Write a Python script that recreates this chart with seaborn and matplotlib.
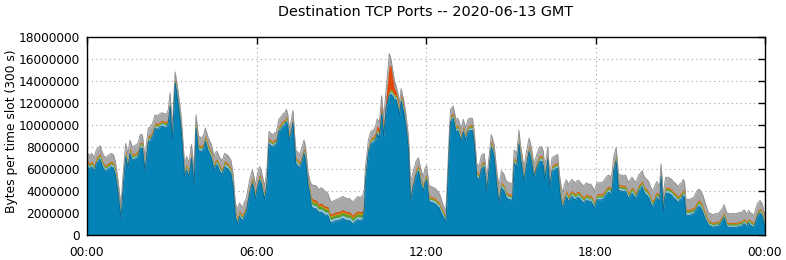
import numpy as np
import pandas as pd
import matplotlib
matplotlib.use("Agg")
import matplotlib.pyplot as plt
from matplotlib.ticker import FuncFormatter, FixedLocator
import seaborn as sns

# ---- data (values in millions of bytes per 300 s slot) ----
hours = [
    0.0, 0.08, 0.17, 0.25, 0.33, 0.46, 0.55, 0.64, 0.75, 0.85,
    0.93, 1.0, 1.08, 1.15, 1.2, 1.28, 1.37, 1.45, 1.52, 1.6,
    1.68, 1.76, 1.82, 1.88, 1.96, 2.05, 2.12, 2.17, 2.25, 2.33,
    2.41, 2.5, 2.58, 2.65, 2.75, 2.82, 2.88, 2.94, 3.02, 3.12,
    3.18, 3.23, 3.3, 3.35, 3.45, 3.53, 3.61, 3.7, 3.79, 3.86,
    3.94, 4.05, 4.12, 4.19, 4.28, 4.35, 4.4, 4.5, 4.55, 4.6,
    4.7, 4.78, 4.87, 4.93, 4.99, 5.09, 5.17, 5.25, 5.32, 5.4,
    5.46, 5.52, 5.58, 5.64, 5.7, 5.76, 5.85, 5.9, 5.96, 6.04,
    6.11, 6.16, 6.21, 6.29, 6.37, 6.44, 6.51, 6.58, 6.65, 6.7,
    6.79, 6.86, 6.94, 7.0, 7.06, 7.11, 7.15, 7.22, 7.29, 7.34,
    7.39, 7.46, 7.53, 7.6, 7.68, 7.72, 7.76, 7.82, 7.88, 7.94,
    8.02, 8.1, 8.16, 8.22, 8.28, 8.34, 8.42, 8.52, 8.6, 8.64,
    8.72, 8.81, 8.9, 8.98, 9.05, 9.12, 9.23, 9.3, 9.4, 9.48,
    9.58, 9.66, 9.76, 9.82, 9.85, 9.96, 10.05, 10.12, 10.17, 10.22,
    10.27, 10.35, 10.43, 10.5, 10.59, 10.65, 10.7, 10.76, 10.82, 10.88,
    10.94, 11.02, 11.07, 11.12, 11.18, 11.21, 11.29, 11.38, 11.45, 11.53,
    11.6, 11.65, 11.73, 11.82, 11.91, 11.96, 12.02, 12.11, 12.17, 12.26,
    12.34, 12.4, 12.46, 12.52, 12.58, 12.64, 12.7, 12.74, 12.78, 12.83,
    12.87, 12.96, 13.02, 13.05, 13.12, 13.17, 13.25, 13.32, 13.4, 13.49,
    13.56, 13.64, 13.7, 13.75, 13.79, 13.88, 13.96, 14.05, 14.1, 14.15,
    14.23, 14.31, 14.36, 14.41, 14.5, 14.58, 14.63, 14.67, 14.76, 14.82,
    14.88, 14.97, 15.06, 15.12, 15.21, 15.29, 15.34, 15.38, 15.47, 15.56,
    15.65, 15.73, 15.82, 15.92, 16.02, 16.1, 16.16, 16.19, 16.26, 16.31,
    16.38, 16.46, 16.52, 16.58, 16.66, 16.73, 16.8, 16.85, 16.9, 16.97,
    17.05, 17.1, 17.17, 17.23, 17.29, 17.35, 17.41, 17.5, 17.58, 17.64,
    17.7, 17.76, 17.82, 17.9, 17.96, 18.05, 18.12, 18.23, 18.3, 18.35,
    18.41, 18.47, 18.55, 18.6, 18.64, 18.73, 18.77, 18.81, 18.88, 18.94,
    19.0, 19.06, 19.12, 19.18, 19.23, 19.29, 19.35, 19.41, 19.47, 19.53,
    19.6, 19.65, 19.73, 19.82, 19.88, 19.94, 20.0, 20.05, 20.11, 20.17,
    20.22, 20.27, 20.32, 20.36, 20.4, 20.44, 20.48, 20.58, 20.64, 20.7,
    20.75, 20.81, 20.87, 20.93, 20.99, 21.05, 21.1, 21.15, 21.2, 21.28,
    21.35, 21.4, 21.46, 21.52, 21.58, 21.64, 21.68, 21.76, 21.82, 21.88,
    21.94, 22.0, 22.08, 22.17, 22.26, 22.35, 22.41, 22.47, 22.55, 22.6,
    22.64, 22.73, 22.82, 22.9, 23.0, 23.08, 23.17, 23.23, 23.29, 23.33,
    23.37, 23.42, 23.47, 23.54, 23.61, 23.67, 23.73, 23.82, 23.88, 23.92,
    23.96, 24.0,
]

port_blue = [
    6.3, 6.0, 6.2, 5.8, 6.5, 6.9, 6.2, 5.8, 6.0, 6.2,
    6.1, 5.5, 4.1, 2.6, 1.5, 4.4, 7.1, 6.1, 7.4, 6.8,
    6.9, 7.0, 7.2, 7.9, 7.9, 5.8, 7.4, 8.5, 8.6, 9.0,
    9.7, 9.6, 9.8, 9.9, 9.8, 9.8, 10.2, 11.7, 8.6, 13.8,
    12.8, 11.8, 10.3, 9.0, 5.3, 5.9, 5.3, 7.0, 4.6, 9.7,
    7.7, 7.6, 7.8, 8.5, 7.7, 7.3, 7.0, 5.9, 6.3, 6.4,
    5.8, 5.5, 6.2, 6.1, 6.0, 5.6, 4.4, 1.7, 1.0, 1.7,
    1.4, 1.4, 1.8, 2.1, 3.0, 3.8, 4.7, 4.2, 3.3, 4.4,
    5.0, 4.7, 4.1, 3.2, 4.7, 8.3, 8.1, 8.0, 8.2, 8.2,
    9.4, 9.6, 9.9, 10.0, 10.3, 9.8, 8.6, 9.2, 10.2, 8.3,
    6.5, 6.3, 6.1, 6.6, 7.4, 7.0, 6.2, 4.6, 3.8, 2.6,
    2.4, 2.4, 2.2, 2.0, 2.1, 2.0, 1.8, 1.8, 1.2, 1.1,
    1.2, 1.3, 1.3, 1.4, 1.5, 1.4, 1.3, 1.3, 1.0, 1.2,
    1.4, 1.3, 1.4, 2.4, 4.8, 7.5, 8.3, 8.4, 8.5, 8.7,
    9.2, 8.8, 11.0, 9.0, 11.5, 12.3, 12.7, 12.8, 12.6, 12.3,
    12.3, 11.5, 10.9, 12.2, 11.5, 11.2, 9.8, 7.8, 3.0, 4.2,
    4.9, 5.5, 5.8, 4.6, 4.0, 4.7, 5.0, 3.0, 3.0, 2.9,
    2.8, 2.6, 2.5, 2.1, 1.8, 1.5, 1.2, 2.9, 5.4, 8.4,
    10.3, 10.6, 9.9, 9.4, 9.5, 9.2, 8.5, 9.4, 8.6, 9.4,
    9.5, 9.5, 8.4, 6.9, 5.3, 5.0, 6.0, 6.2, 5.3, 3.9,
    6.0, 8.0, 7.6, 7.1, 4.6, 2.9, 3.7, 4.3, 4.0, 3.5,
    3.3, 3.2, 3.2, 6.5, 6.2, 8.3, 7.0, 6.4, 4.9, 6.4,
    7.6, 6.7, 5.2, 6.1, 6.7, 6.7, 6.2, 5.1, 5.9, 6.9,
    4.3, 5.8, 5.9, 6.0, 6.1, 4.0, 2.8, 2.4, 3.1, 3.5,
    3.0, 3.3, 3.5, 3.3, 3.2, 3.4, 3.4, 3.1, 2.9, 3.1,
    3.2, 3.0, 3.1, 2.8, 2.4, 3.2, 3.2, 3.2, 3.4, 3.6,
    3.8, 3.9, 3.7, 4.5, 5.8, 6.7, 5.6, 4.1, 4.0, 4.0,
    3.9, 4.0, 3.6, 3.3, 3.6, 3.8, 3.6, 3.3, 3.6, 4.0,
    4.2, 4.4, 3.8, 3.6, 3.4, 3.0, 2.6, 2.7, 3.1, 3.4,
    3.2, 3.1, 5.3, 3.8, 2.1, 3.2, 3.8, 3.8, 3.7, 3.6,
    3.4, 3.3, 3.1, 3.0, 3.2, 3.3, 3.6, 3.4, 1.8, 1.8,
    1.8, 1.9, 1.9, 2.1, 2.4, 2.6, 2.6, 2.3, 1.9, 1.5,
    1.2, 0.9, 0.8, 0.7, 0.8, 0.8, 1.0, 1.2, 1.6, 1.2,
    0.8, 0.7, 0.7, 0.7, 0.7, 0.8, 0.8, 1.0, 1.0, 0.8,
    0.8, 1.1, 0.9, 0.8, 0.7, 1.2, 1.7, 2.0, 1.8, 1.5,
    1.1, 0.7,
]

port_lightblue = [
    0.25, 0.25, 0.25, 0.25, 0.25, 0.25, 0.25, 0.25, 0.25, 0.25,
    0.25, 0.25, 0.25, 0.25, 0.25, 0.25, 0.25, 0.25, 0.25, 0.25,
    0.25, 0.25, 0.25, 0.25, 0.25, 0.25, 0.25, 0.25, 0.25, 0.25,
    0.25, 0.25, 0.25, 0.25, 0.25, 0.25, 0.25, 0.25, 0.25, 0.25,
    0.25, 0.25, 0.25, 0.25, 0.25, 0.25, 0.25, 0.25, 0.25, 0.25,
    0.25, 0.25, 0.25, 0.25, 0.25, 0.25, 0.25, 0.25, 0.25, 0.25,
    0.25, 0.25, 0.25, 0.25, 0.25, 0.25, 0.25, 0.25, 0.25, 0.25,
    0.25, 0.25, 0.25, 0.25, 0.25, 0.25, 0.25, 0.25, 0.25, 0.25,
    0.25, 0.25, 0.25, 0.25, 0.25, 0.25, 0.25, 0.25, 0.25, 0.25,
    0.25, 0.25, 0.25, 0.25, 0.25, 0.25, 0.25, 0.25, 0.25, 0.25,
    0.25, 0.25, 0.25, 0.25, 0.25, 0.25, 0.25, 0.25, 0.25, 0.3,
    0.3, 0.3, 0.3, 0.3, 0.3, 0.3, 0.3, 0.3, 0.3, 0.3,
    0.3, 0.3, 0.3, 0.3, 0.3, 0.3, 0.3, 0.3, 0.3, 0.3,
    0.3, 0.3, 0.3, 0.3, 0.25, 0.25, 0.25, 0.25, 0.25, 0.25,
    0.25, 0.25, 0.25, 0.25, 0.25, 0.25, 0.25, 0.25, 0.25, 0.25,
    0.25, 0.25, 0.25, 0.25, 0.25, 0.25, 0.25, 0.25, 0.25, 0.25,
    0.25, 0.25, 0.25, 0.25, 0.25, 0.25, 0.25, 0.25, 0.25, 0.25,
    0.25, 0.25, 0.25, 0.25, 0.25, 0.25, 0.25, 0.25, 0.25, 0.25,
    0.25, 0.25, 0.25, 0.25, 0.25, 0.25, 0.25, 0.25, 0.25, 0.25,
    0.25, 0.25, 0.25, 0.25, 0.25, 0.25, 0.25, 0.25, 0.25, 0.25,
    0.25, 0.25, 0.25, 0.25, 0.25, 0.25, 0.25, 0.25, 0.25, 0.25,
    0.25, 0.25, 0.25, 0.25, 0.25, 0.25, 0.25, 0.25, 0.25, 0.25,
    0.25, 0.25, 0.25, 0.25, 0.25, 0.25, 0.25, 0.25, 0.25, 0.25,
    0.25, 0.25, 0.25, 0.25, 0.25, 0.25, 0.25, 0.25, 0.25, 0.25,
    0.25, 0.25, 0.25, 0.25, 0.25, 0.25, 0.25, 0.25, 0.25, 0.25,
    0.25, 0.25, 0.25, 0.25, 0.25, 0.25, 0.25, 0.25, 0.25, 0.25,
    0.25, 0.25, 0.25, 0.25, 0.25, 0.25, 0.25, 0.25, 0.25, 0.25,
    0.25, 0.25, 0.25, 0.25, 0.25, 0.25, 0.25, 0.25, 0.25, 0.25,
    0.25, 0.25, 0.25, 0.25, 0.25, 0.25, 0.25, 0.25, 0.25, 0.25,
    0.25, 0.25, 0.25, 0.25, 0.25, 0.25, 0.25, 0.25, 0.25, 0.25,
    0.25, 0.25, 0.25, 0.25, 0.25, 0.25, 0.25, 0.25, 0.25, 0.25,
    0.25, 0.25, 0.25, 0.25, 0.25, 0.25, 0.25, 0.25, 0.25, 0.25,
    0.2, 0.2, 0.2, 0.2, 0.2, 0.2, 0.2, 0.2, 0.2, 0.2,
    0.2, 0.2, 0.2, 0.2, 0.2, 0.2, 0.2, 0.2, 0.2, 0.2,
    0.2, 0.2, 0.2, 0.2, 0.2, 0.2, 0.2, 0.2, 0.2, 0.2,
    0.2, 0.2,
]

port_green = [
    0.12, 0.12, 0.12, 0.12, 0.12, 0.12, 0.12, 0.12, 0.12, 0.12,
    0.12, 0.12, 0.12, 0.12, 0.12, 0.12, 0.12, 0.12, 0.12, 0.12,
    0.12, 0.12, 0.12, 0.12, 0.12, 0.12, 0.12, 0.12, 0.12, 0.12,
    0.12, 0.12, 0.12, 0.12, 0.12, 0.12, 0.12, 0.12, 0.12, 0.12,
    0.12, 0.12, 0.12, 0.12, 0.12, 0.12, 0.12, 0.12, 0.12, 0.12,
    0.12, 0.12, 0.12, 0.12, 0.12, 0.12, 0.12, 0.12, 0.12, 0.12,
    0.12, 0.12, 0.12, 0.12, 0.12, 0.12, 0.12, 0.12, 0.12, 0.12,
    0.12, 0.12, 0.12, 0.12, 0.12, 0.12, 0.12, 0.12, 0.12, 0.12,
    0.12, 0.12, 0.12, 0.12, 0.12, 0.12, 0.12, 0.12, 0.12, 0.12,
    0.12, 0.12, 0.12, 0.12, 0.12, 0.12, 0.12, 0.12, 0.12, 0.12,
    0.12, 0.12, 0.12, 0.12, 0.12, 0.12, 0.12, 0.12, 0.12, 0.25,
    0.25, 0.25, 0.25, 0.25, 0.25, 0.25, 0.25, 0.25, 0.25, 0.25,
    0.25, 0.25, 0.25, 0.25, 0.25, 0.25, 0.25, 0.25, 0.25, 0.25,
    0.25, 0.25, 0.25, 0.25, 0.12, 0.12, 0.12, 0.12, 0.12, 0.12,
    0.12, 0.12, 0.12, 0.12, 0.12, 0.12, 0.12, 0.12, 0.12, 0.12,
    0.12, 0.12, 0.12, 0.12, 0.12, 0.12, 0.12, 0.12, 0.12, 0.12,
    0.12, 0.12, 0.12, 0.12, 0.12, 0.12, 0.12, 0.12, 0.12, 0.12,
    0.12, 0.12, 0.12, 0.12, 0.12, 0.12, 0.12, 0.12, 0.12, 0.12,
    0.12, 0.12, 0.12, 0.12, 0.12, 0.12, 0.12, 0.12, 0.12, 0.12,
    0.12, 0.12, 0.12, 0.12, 0.12, 0.12, 0.12, 0.12, 0.12, 0.12,
    0.12, 0.12, 0.12, 0.12, 0.12, 0.12, 0.12, 0.12, 0.12, 0.12,
    0.12, 0.12, 0.12, 0.12, 0.12, 0.12, 0.12, 0.12, 0.12, 0.12,
    0.12, 0.12, 0.12, 0.12, 0.12, 0.12, 0.12, 0.12, 0.12, 0.12,
    0.12, 0.12, 0.12, 0.12, 0.12, 0.12, 0.12, 0.12, 0.12, 0.12,
    0.15, 0.15, 0.15, 0.15, 0.15, 0.15, 0.15, 0.15, 0.15, 0.15,
    0.15, 0.15, 0.15, 0.15, 0.15, 0.15, 0.15, 0.15, 0.15, 0.15,
    0.15, 0.15, 0.15, 0.15, 0.15, 0.15, 0.15, 0.15, 0.15, 0.15,
    0.15, 0.15, 0.15, 0.15, 0.15, 0.15, 0.15, 0.15, 0.15, 0.15,
    0.15, 0.15, 0.15, 0.15, 0.15, 0.15, 0.15, 0.15, 0.15, 0.15,
    0.15, 0.15, 0.15, 0.15, 0.15, 0.15, 0.15, 0.15, 0.15, 0.15,
    0.15, 0.15, 0.15, 0.15, 0.15, 0.15, 0.15, 0.15, 0.15, 0.15,
    0.15, 0.15, 0.15, 0.15, 0.15, 0.15, 0.15, 0.15, 0.15, 0.15,
    0.12, 0.12, 0.12, 0.12, 0.12, 0.12, 0.12, 0.12, 0.12, 0.12,
    0.12, 0.12, 0.12, 0.12, 0.12, 0.12, 0.12, 0.12, 0.12, 0.12,
    0.12, 0.12, 0.12, 0.12, 0.12, 0.12, 0.12, 0.12, 0.12, 0.12,
    0.12, 0.12,
]

port_gold = [
    0.08, 0.08, 0.08, 0.08, 0.08, 0.08, 0.08, 0.08, 0.08, 0.08,
    0.08, 0.08, 0.08, 0.08, 0.08, 0.08, 0.08, 0.08, 0.08, 0.08,
    0.08, 0.08, 0.08, 0.08, 0.08, 0.08, 0.08, 0.08, 0.08, 0.08,
    0.08, 0.08, 0.08, 0.08, 0.08, 0.08, 0.08, 0.08, 0.08, 0.08,
    0.08, 0.08, 0.08, 0.08, 0.08, 0.08, 0.08, 0.08, 0.08, 0.08,
    0.08, 0.08, 0.08, 0.08, 0.08, 0.08, 0.08, 0.08, 0.08, 0.08,
    0.08, 0.08, 0.08, 0.08, 0.08, 0.08, 0.08, 0.08, 0.08, 0.08,
    0.08, 0.08, 0.08, 0.08, 0.08, 0.08, 0.08, 0.08, 0.08, 0.08,
    0.08, 0.08, 0.08, 0.08, 0.08, 0.08, 0.08, 0.08, 0.08, 0.08,
    0.08, 0.08, 0.08, 0.08, 0.08, 0.08, 0.08, 0.08, 0.08, 0.08,
    0.08, 0.08, 0.08, 0.08, 0.08, 0.08, 0.08, 0.08, 0.08, 0.1,
    0.1, 0.1, 0.1, 0.1, 0.1, 0.1, 0.1, 0.1, 0.1, 0.1,
    0.1, 0.1, 0.1, 0.1, 0.1, 0.1, 0.1, 0.1, 0.1, 0.1,
    0.1, 0.1, 0.1, 0.1, 0.08, 0.08, 0.08, 0.08, 0.08, 0.08,
    0.08, 0.08, 0.08, 0.08, 0.08, 0.08, 0.08, 0.08, 0.08, 0.08,
    0.08, 0.08, 0.08, 0.08, 0.08, 0.08, 0.08, 0.08, 0.08, 0.08,
    0.08, 0.08, 0.08, 0.08, 0.08, 0.08, 0.08, 0.08, 0.08, 0.08,
    0.08, 0.08, 0.08, 0.08, 0.08, 0.08, 0.08, 0.08, 0.08, 0.08,
    0.08, 0.08, 0.08, 0.08, 0.08, 0.08, 0.08, 0.08, 0.08, 0.08,
    0.08, 0.08, 0.08, 0.08, 0.08, 0.08, 0.08, 0.08, 0.08, 0.08,
    0.08, 0.08, 0.08, 0.08, 0.08, 0.08, 0.08, 0.08, 0.08, 0.08,
    0.08, 0.08, 0.08, 0.08, 0.08, 0.08, 0.08, 0.08, 0.08, 0.08,
    0.08, 0.08, 0.08, 0.08, 0.08, 0.08, 0.08, 0.08, 0.08, 0.08,
    0.08, 0.08, 0.08, 0.08, 0.08, 0.08, 0.08, 0.08, 0.08, 0.08,
    0.08, 0.08, 0.08, 0.08, 0.08, 0.08, 0.08, 0.08, 0.08, 0.08,
    0.08, 0.08, 0.08, 0.08, 0.08, 0.08, 0.08, 0.08, 0.08, 0.08,
    0.08, 0.08, 0.08, 0.08, 0.08, 0.08, 0.08, 0.08, 0.08, 0.08,
    0.08, 0.08, 0.08, 0.08, 0.08, 0.08, 0.08, 0.08, 0.08, 0.08,
    0.08, 0.08, 0.08, 0.08, 0.08, 0.08, 0.08, 0.08, 0.08, 0.08,
    0.08, 0.08, 0.08, 0.08, 0.08, 0.08, 0.08, 0.08, 0.08, 0.08,
    0.08, 0.08, 0.08, 0.08, 0.08, 0.08, 0.08, 0.08, 0.08, 0.08,
    0.08, 0.08, 0.08, 0.08, 0.08, 0.08, 0.08, 0.08, 0.08, 0.08,
    0.06, 0.06, 0.06, 0.06, 0.06, 0.06, 0.06, 0.06, 0.06, 0.06,
    0.06, 0.06, 0.06, 0.06, 0.06, 0.06, 0.06, 0.06, 0.06, 0.06,
    0.06, 0.06, 0.06, 0.06, 0.06, 0.06, 0.06, 0.06, 0.06, 0.06,
    0.06, 0.06,
]

port_red = [
    0.07, 0.07, 0.07, 0.07, 0.07, 0.07, 0.07, 0.07, 0.07, 0.07,
    0.07, 0.07, 0.07, 0.07, 0.07, 0.07, 0.07, 0.07, 0.07, 0.07,
    0.07, 0.07, 0.07, 0.07, 0.07, 0.07, 0.07, 0.07, 0.07, 0.07,
    0.07, 0.07, 0.07, 0.07, 0.07, 0.07, 0.07, 0.07, 0.07, 0.07,
    0.07, 0.07, 0.07, 0.07, 0.07, 0.07, 0.07, 0.07, 0.07, 0.07,
    0.07, 0.07, 0.07, 0.07, 0.07, 0.07, 0.07, 0.07, 0.07, 0.07,
    0.07, 0.07, 0.07, 0.07, 0.07, 0.07, 0.07, 0.07, 0.07, 0.07,
    0.07, 0.07, 0.07, 0.07, 0.07, 0.07, 0.07, 0.07, 0.07, 0.07,
    0.07, 0.07, 0.07, 0.07, 0.07, 0.07, 0.07, 0.07, 0.07, 0.07,
    0.07, 0.07, 0.07, 0.07, 0.07, 0.07, 0.07, 0.07, 0.07, 0.07,
    0.07, 0.07, 0.07, 0.07, 0.07, 0.07, 0.07, 0.07, 0.07, 0.15,
    0.15, 0.15, 0.15, 0.15, 0.15, 0.15, 0.15, 0.15, 0.15, 0.15,
    0.15, 0.15, 0.15, 0.15, 0.15, 0.15, 0.15, 0.15, 0.15, 0.15,
    0.15, 0.15, 0.15, 0.15, 0.07, 0.07, 0.07, 0.07, 0.1, 0.2,
    0.3, 0.4, 0.6, 0.4, 0.6, 1.5, 2.3, 2.1, 1.3, 0.6,
    0.3, 0.2, 0.15, 0.15, 0.15, 0.15, 0.1, 0.07, 0.07, 0.07,
    0.07, 0.07, 0.07, 0.07, 0.07, 0.07, 0.07, 0.07, 0.07, 0.07,
    0.07, 0.07, 0.07, 0.07, 0.07, 0.07, 0.07, 0.07, 0.07, 0.07,
    0.07, 0.07, 0.07, 0.07, 0.07, 0.07, 0.07, 0.07, 0.07, 0.07,
    0.07, 0.07, 0.07, 0.07, 0.07, 0.07, 0.07, 0.07, 0.07, 0.07,
    0.07, 0.07, 0.07, 0.07, 0.07, 0.07, 0.07, 0.07, 0.07, 0.07,
    0.07, 0.07, 0.07, 0.07, 0.07, 0.07, 0.07, 0.07, 0.07, 0.07,
    0.07, 0.07, 0.07, 0.07, 0.07, 0.07, 0.07, 0.07, 0.07, 0.07,
    0.07, 0.07, 0.07, 0.07, 0.07, 0.07, 0.07, 0.07, 0.07, 0.07,
    0.07, 0.07, 0.07, 0.07, 0.07, 0.07, 0.07, 0.07, 0.07, 0.07,
    0.07, 0.07, 0.07, 0.07, 0.07, 0.07, 0.07, 0.07, 0.07, 0.07,
    0.07, 0.07, 0.07, 0.07, 0.07, 0.07, 0.07, 0.07, 0.07, 0.07,
    0.07, 0.07, 0.07, 0.07, 0.07, 0.07, 0.07, 0.07, 0.07, 0.07,
    0.07, 0.07, 0.07, 0.07, 0.07, 0.07, 0.07, 0.07, 0.07, 0.07,
    0.07, 0.07, 0.07, 0.07, 0.07, 0.07, 0.07, 0.07, 0.07, 0.07,
    0.07, 0.07, 0.07, 0.07, 0.07, 0.07, 0.07, 0.07, 0.07, 0.07,
    0.07, 0.07, 0.07, 0.07, 0.07, 0.07, 0.07, 0.07, 0.07, 0.07,
    0.06, 0.06, 0.06, 0.06, 0.06, 0.06, 0.06, 0.06, 0.06, 0.06,
    0.06, 0.06, 0.06, 0.06, 0.06, 0.06, 0.06, 0.06, 0.06, 0.06,
    0.06, 0.06, 0.06, 0.06, 0.06, 0.06, 0.06, 0.06, 0.06, 0.06,
    0.06, 0.06,
]

port_other = [
    0.7, 0.7, 0.7, 0.7, 0.7, 0.7, 0.7, 0.7, 0.7, 0.7,
    0.7, 0.7, 0.7, 0.7, 0.6, 0.7, 0.7, 0.7, 0.7, 0.7,
    0.7, 0.7, 0.7, 0.7, 0.7, 0.7, 0.7, 0.7, 0.7, 0.7,
    0.7, 0.7, 0.7, 0.7, 0.7, 0.7, 0.7, 0.7, 0.7, 0.5,
    0.5, 0.6, 0.7, 0.7, 0.7, 0.7, 0.7, 0.7, 0.7, 0.7,
    0.8, 0.7, 0.7, 0.7, 0.7, 0.7, 0.7, 0.7, 0.7, 0.7,
    0.7, 0.7, 0.7, 0.7, 0.7, 0.7, 0.7, 0.7, 0.8, 0.7,
    0.7, 0.7, 0.7, 0.7, 0.7, 0.7, 0.7, 0.7, 0.7, 0.7,
    0.7, 0.7, 0.7, 0.7, 0.7, 0.6, 0.6, 0.6, 0.6, 0.6,
    0.6, 0.6, 0.6, 0.6, 0.6, 0.6, 0.6, 0.6, 0.6, 0.6,
    0.7, 0.7, 0.7, 0.7, 0.7, 0.7, 0.7, 0.7, 0.7, 1.2,
    1.3, 1.3, 1.3, 1.3, 1.4, 1.4, 1.4, 1.2, 1.2, 1.1,
    1.1, 1.1, 1.2, 1.2, 1.2, 1.2, 1.2, 1.2, 1.2, 1.2,
    1.3, 1.3, 1.4, 1.0, 0.6, 0.6, 0.6, 0.6, 0.6, 0.6,
    0.6, 0.6, 0.6, 0.75, 0.65, 0.75, 1.05, 0.65, 0.65, 0.65,
    0.55, 0.55, 0.5, 0.5, 0.5, 0.5, 0.6, 0.6, 1.2, 0.9,
    0.8, 0.7, 0.7, 0.8, 0.8, 0.8, 0.8, 0.9, 0.9, 0.9,
    0.9, 0.9, 0.8, 0.8, 0.6, 0.5, 0.4, 0.6, 0.6, 0.6,
    0.6, 0.6, 0.6, 0.6, 0.6, 0.6, 0.6, 0.6, 0.6, 0.6,
    0.6, 0.6, 0.6, 0.6, 0.7, 0.7, 0.7, 0.7, 0.7, 0.6,
    0.6, 0.6, 0.6, 0.6, 0.8, 1.0, 1.0, 1.0, 1.0, 1.0,
    1.0, 1.0, 1.0, 0.7, 0.7, 0.7, 0.7, 0.7, 0.7, 0.7,
    0.7, 0.7, 0.7, 0.7, 0.8, 0.8, 0.8, 0.6, 0.6, 0.6,
    0.5, 0.7, 0.7, 0.7, 0.7, 0.8, 0.9, 0.9, 1.0, 1.0,
    1.0, 1.0, 1.0, 1.0, 1.0, 1.0, 1.0, 1.0, 1.0, 1.0,
    1.0, 1.0, 1.0, 1.0, 1.0, 1.0, 1.0, 1.0, 1.0, 1.0,
    1.0, 1.0, 1.0, 0.8, 0.7, 0.7, 0.7, 0.9, 0.9, 0.9,
    0.9, 0.9, 0.9, 0.9, 0.9, 0.9, 0.9, 0.9, 0.9, 0.9,
    0.9, 0.9, 0.9, 0.9, 0.9, 0.9, 0.9, 0.9, 0.9, 0.9,
    0.9, 0.8, 0.6, 0.7, 0.6, 0.8, 0.9, 0.9, 0.9, 0.9,
    0.9, 0.9, 0.9, 0.9, 0.9, 0.9, 0.9, 0.9, 0.9, 0.9,
    0.9, 0.9, 0.9, 1.0, 1.0, 1.0, 1.0, 1.0, 1.0, 0.9,
    0.8, 0.7, 0.7, 0.7, 0.7, 0.7, 0.7, 0.7, 0.7, 0.7,
    0.8, 0.8, 0.8, 0.8, 0.8, 0.8, 0.8, 0.8, 0.8, 0.7,
    0.7, 0.7, 0.7, 0.7, 0.6, 0.7, 0.7, 0.7, 0.7, 0.7,
    0.6, 0.5,
]

x_tick_hours = [0, 6, 12, 18, 24]
x_tick_labels = ["00:00", "06:00", "12:00", "18:00", "00:00"]
y_ticks = [0, 2000000, 4000000, 6000000, 8000000, 10000000,
           12000000, 14000000, 16000000, 18000000]

layers = [port_blue, port_lightblue, port_green, port_gold, port_red, port_other]
for lay in layers:
    assert len(lay) == len(hours), (len(lay), len(hours))

colors = ["#0583b6", "#8ec6e2", "#5e9c2c", "#d2a01c", "#e0490c", "#a8a8a8"]

# ---- figure ----
sns.set_style("white")
plt.rcParams["font.family"] = ["DejaVu Sans"]

W, H = 786, 260
fig = plt.figure(figsize=(W / 100, H / 100), dpi=100)
ax = fig.add_axes([87 / W, 25 / H, 678 / W, 198 / H])

scale = 1e6
cum = np.cumsum(np.array(layers, dtype=float), axis=0) * scale
df = pd.DataFrame({"hour": hours, "blue_top": cum[0], "total": cum[-1]})

# draw from the top layer down so each fill starts at 0 (no seams)
for i in range(len(layers) - 1, -1, -1):
    ax.fill_between(df["hour"], 0, cum[i], color=colors[i], lw=0, zorder=2)

sns.lineplot(data=df, x="hour", y="total", color="#929292", lw=0.7,
             ax=ax, zorder=3, legend=False)
sns.lineplot(data=df, x="hour", y="blue_top", color="#0a6690", lw=0.6,
             ax=ax, zorder=3, legend=False)

ax.set_xlim(0, 24)
ax.set_ylim(0, 18000000)
ax.xaxis.set_major_locator(FixedLocator(x_tick_hours))
ax.set_xticklabels(x_tick_labels)
ax.yaxis.set_major_locator(FixedLocator(y_ticks))
ax.yaxis.set_major_formatter(FuncFormatter(lambda v, p: f"{int(round(v))}"))

ax.grid(True, linestyle=(0, (1, 3)), color="#a0a0a0", lw=0.8)
ax.set_axisbelow(True)
for s in ax.spines.values():
    s.set_color("black")
    s.set_linewidth(1.0)
    s.set_zorder(5)

ax.tick_params(axis="both", direction="in", length=5, width=1, color="black",
               top=True, right=True, labelsize=8.7, labelcolor="black")
ax.tick_params(axis="y", pad=5)
ax.tick_params(axis="x", pad=8)

ax.set_xlabel("")
ax.set_ylabel("")
fig.text(12 / W, 1 - 131 / H, "Bytes per time slot (300 s)", rotation=90,
         ha="center", va="center", fontsize=8.8, color="black")

fig.text(426 / W, 1 - 12 / H, "Destination TCP Ports -- 2020-06-13 GMT",
         ha="center", va="center", fontsize=10.4, color="black")

fig.savefig("out.png", dpi=100, facecolor="white")
